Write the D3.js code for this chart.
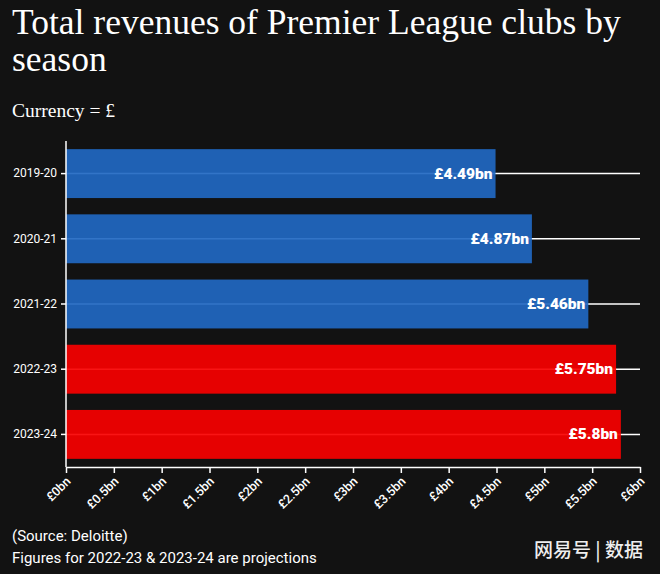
<!DOCTYPE html>
<html>
<head>
<meta charset="utf-8">
<script src="https://cdn.jsdelivr.net/npm/d3@7"></script>
<style>
  html, body { margin: 0; padding: 0; background: #121212; }
  svg { display: block; }
</style>
</head>
<body>
<script>
const seasons = ["2019-20", "2020-21", "2021-22", "2022-23", "2023-24"];
const revenues = [4.49, 4.87, 5.46, 5.75, 5.8];
const valueLabels = ["£4.49bn", "£4.87bn", "£5.46bn", "£5.75bn", "£5.8bn"];
const isProjection = [false, false, false, true, true];
const xTicks = [0, 0.5, 1, 1.5, 2, 2.5, 3, 3.5, 4, 4.5, 5, 5.5, 6];
const xTickLabels = ["£0bn", "£0.5bn", "£1bn", "£1.5bn", "£2bn", "£2.5bn", "£3bn", "£3.5bn", "£4bn", "£4.5bn", "£5bn", "£5.5bn", "£6bn"];
const titleLines = ["Total revenues of Premier League clubs by", "season"];

(function () {
const W = 660, H = 574;
const mLeft = 66, mRight = 640, mTop = 141, mBottom = 467;

const svg = d3.select("body").append("svg").attr("width", W).attr("height", H);
svg.append("rect").attr("width", W).attr("height", H).attr("fill", "#121212");

const serifF = "'Liberation Serif', serif";
const sans = "Roboto, 'Noto Sans', sans-serif";
const title = svg.append("text").attr("fill", "#fff")
  .attr("font-family", serifF).attr("font-size", 35.5);
title.selectAll("tspan").data(titleLines).join("tspan")
  .attr("x", 12).attr("y", (d, i) => 34 + i * 37).text(d => d);
svg.append("text").attr("x", 12).attr("y", 117).attr("fill", "#fff")
  .attr("font-family", serifF).attr("font-size", 19.5)
  .text("Currency = £");

const x = d3.scaleLinear().domain([0, 6]).range([mLeft, mRight]);
const y = d3.scaleBand().domain(seasons).range([mTop, mBottom]).paddingInner(0.25).paddingOuter(0.125);

svg.append("g").selectAll("line").data(seasons).join("line")
  .attr("x1", mLeft).attr("x2", mRight)
  .attr("y1", d => y(d) + y.bandwidth() / 2).attr("y2", d => y(d) + y.bandwidth() / 2)
  .attr("stroke", "#fff").attr("stroke-width", 1.5);

svg.append("g").selectAll("rect").data(seasons).join("rect")
  .attr("x", x(0)).attr("y", d => y(d))
  .attr("width", (d, i) => x(revenues[i]) - x(0))
  .attr("height", y.bandwidth())
  .attr("fill", (d, i) => isProjection[i] ? "#f80000" : "#2168c2")
  .attr("fill-opacity", 0.92);

svg.append("g").selectAll("text").data(seasons).join("text")
  .attr("x", (d, i) => x(revenues[i]) - 3)
  .attr("y", d => y(d) + y.bandwidth() / 2 + 5)
  .attr("text-anchor", "end").attr("fill", "#fff")
  .attr("font-family", sans).attr("font-weight", 900).attr("font-size", 15.5)
  .text((d, i) => valueLabels[i]);

const yAxis = svg.append("g").attr("transform", `translate(${mLeft},0)`)
  .call(d3.axisLeft(y).tickSize(5).tickPadding(4));
yAxis.select(".domain").attr("stroke", "#fff").attr("stroke-width", 1.5).attr("d", `M0,${mTop}V${mBottom}`);
yAxis.selectAll(".tick line").attr("stroke", "#fff").attr("stroke-width", 1.5);
yAxis.selectAll(".tick text").attr("fill", "#fff").attr("font-family", sans).attr("font-size", 12);

const xAxis = svg.append("g").attr("transform", `translate(0,${mBottom})`)
  .call(d3.axisBottom(x).tickValues(xTicks).tickFormat((d, i) => xTickLabels[i]).tickSize(6).tickSizeOuter(0));
xAxis.select(".domain").attr("stroke", "#fff").attr("stroke-width", 1.5);
xAxis.selectAll(".tick line").attr("stroke", "#fff").attr("stroke-width", 1.5);
xAxis.selectAll(".tick text").attr("fill", "#fff").attr("font-family", sans).attr("font-size", 12.5)
  .attr("font-weight", 500)
  .attr("text-anchor", "end").attr("dy", null).attr("y", 0)
  .attr("transform", "translate(5,15) rotate(-45)");

svg.append("text").attr("x", 12).attr("y", 541).attr("fill", "#fff")
  .attr("font-family", sans).attr("font-size", 15).text("(Source: Deloitte)");
svg.append("text").attr("x", 12).attr("y", 563).attr("fill", "#fff")
  .attr("font-family", sans).attr("font-size", 15).text("Figures for 2022-23 & 2023-24 are projections");
svg.append("text").attr("x", 534).attr("y", 557).attr("fill", "#eeeeee")
  .attr("font-family", "'Noto Sans CJK SC', sans-serif").attr("font-weight", 500).attr("font-size", 19)
  .text("网易号 | 数据");
})();
</script>
</body>
</html>
